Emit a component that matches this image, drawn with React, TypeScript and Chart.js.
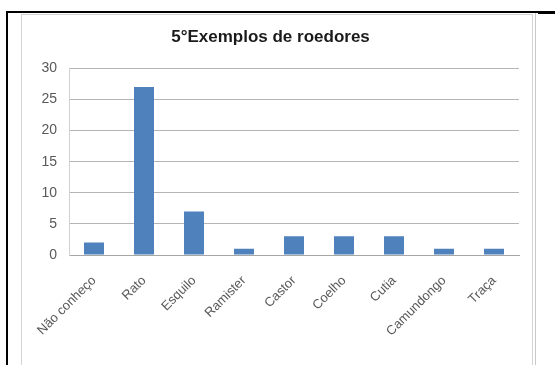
import React, { useEffect, useRef } from "react";
import { Chart, registerables } from "chart.js";

Chart.register(...registerables);

const categories = ["Não conheço", "Rato", "Esquilo", "Ramister", "Castor", "Coelho", "Cutia", "Camundongo", "Traça"];
const values = [2, 27, 7, 1, 3, 3, 3, 1, 1];
const titleText = "5°Exemplos de roedores";

export default function App() {
  const ref = useRef<HTMLCanvasElement | null>(null);

  useEffect(() => {
    document.body.style.margin = "0";
    const ctx = ref.current!;
    const chart = new Chart(ctx, {
      type: "bar",
      data: {
        labels: categories,
        datasets: [
          {
            data: values,
            backgroundColor: "#4f81bd",
            borderWidth: 0,
            categoryPercentage: 1,
            barPercentage: 0.4,
          },
        ],
      },
      options: {
        animation: false,
        responsive: false,
        maintainAspectRatio: false,
        layout: { padding: { left: 0, right: 13, top: 0, bottom: 0 } },
        plugins: {
          legend: { display: false },
          tooltip: { enabled: false },
          title: {
            display: true,
            text: titleText,
            color: "#1a1a1a",
            font: { family: "'Liberation Sans', Arial, sans-serif", size: 17, weight: "bold" },
            padding: { top: 12, bottom: 21 },
          },
        },
        scales: {
          x: {
            grid: { display: false, drawTicks: false },
            border: { display: true, color: "#a6a6a6", width: 1 },
            ticks: {
              minRotation: 45,
              maxRotation: 45,
              autoSkip: false,
              padding: 18,
              color: "#595959",
              font: { family: "'Liberation Sans', Arial, sans-serif", size: 13 },
            },
            afterFit: (s: any) => {
              s.height = 110;
              s.paddingLeft = 0;
              s.paddingRight = 0;
            },
          },
          y: {
            min: 0,
            max: 30,
            ticks: {
              stepSize: 5,
              padding: 12,
              color: "#595959",
              font: { family: "'Liberation Sans', Arial, sans-serif", size: 14 },
            },
            grid: { color: "#b5b5b5", drawTicks: false },
            border: { display: true, color: "#d0d0d0" },
            afterFit: (s: any) => {
              s.width = 47;
            },
          },
        },
      },
    });
    return () => chart.destroy();
  }, []);

  return (
    <div style={{ position: "relative", width: 555, height: 365, overflow: "hidden", background: "#fff" }}>
      <div style={{ position: "absolute", left: 6, top: 11, width: 549, height: 2, background: "#000" }} />
      <div style={{ position: "absolute", left: 538, top: 11, width: 17, height: 3, background: "#000" }} />
      <div style={{ position: "absolute", left: 6, top: 11, width: 2, height: 354, background: "#000" }} />
      <div style={{ position: "absolute", left: 535, top: 13, width: 1, height: 352, background: "#c8c8c8" }} />
      <div
        style={{
          position: "absolute",
          left: 21,
          top: 14,
          width: 510,
          height: 360,
          border: "1px solid #d4d4d4",
        }}
      />
      <canvas
        ref={ref}
        width={510}
        height={350}
        style={{ position: "absolute", left: 22, top: 15, width: 510, height: 350 }}
      />
    </div>
  );
}
